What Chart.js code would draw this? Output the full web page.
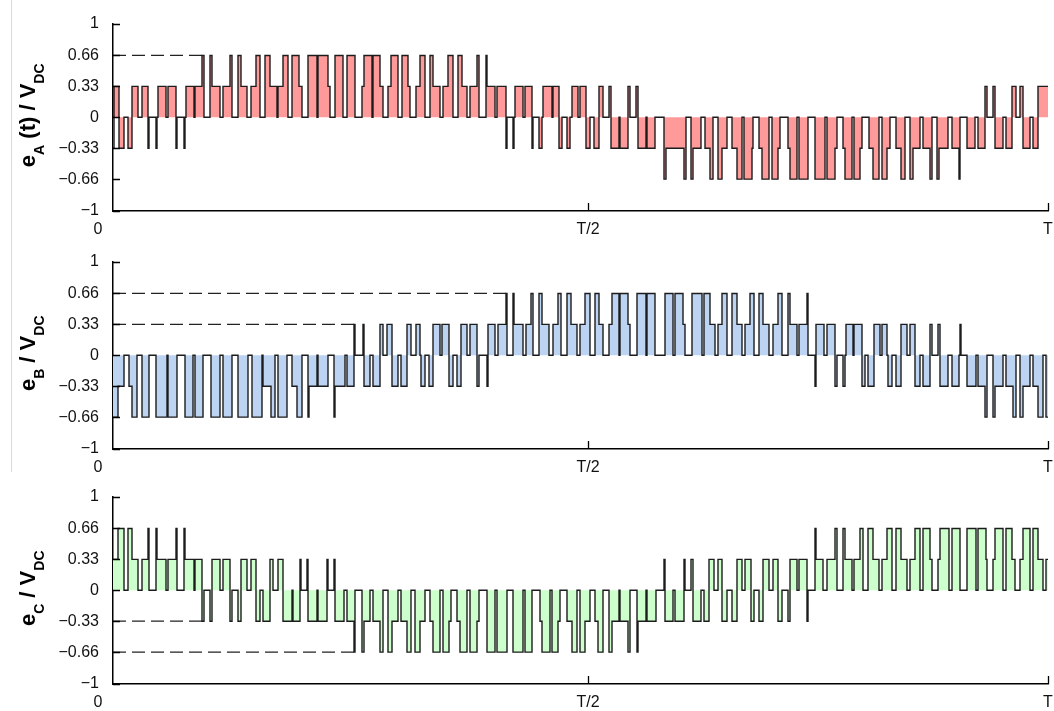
<!DOCTYPE html>
<html>
<head>
<meta charset="utf-8">
<script src="https://cdn.jsdelivr.net/npm/chart.js@4.4.0/dist/chart.umd.min.js"></script>
<style>
  html, body { margin: 0; padding: 0; background: #fff; }
  #wrap { position: relative; width: 1054px; height: 711px; }
  .panel { position: absolute; left: 0; }
  #edge { position: absolute; left: 11px; top: 0; width: 1px; height: 472px; background: #d9d9d9; }
</style>
</head>
<body>
<div id="wrap">
  <div id="edge"></div>
  <canvas class="panel" id="cA" width="1054" height="237" style="top:0"></canvas>
  <canvas class="panel" id="cB" width="1054" height="237" style="top:238px"></canvas>
  <canvas class="panel" id="cC" width="1054" height="237" style="top:473px"></canvas>
</div>
<script>
// one converter step, in units of V_DC
const STEP = 0.33;
// time axis: samples over one fundamental period T
const PERIOD = 935;

const yTickValues = [-1, -0.66, -0.33, 0, 0.33, 0.66, 1];
const yTickLabels = ['\u22121', '\u22120.66', '\u22120.33', '0', '0.33', '0.66', '1'];
const xTickValues = [0, 475, 935];
const xTickLabels = ['0', 'T/2', 'T'];

// phase voltages: [sample where the level starts, level in steps]
const phaseA = [[0,-1],[1,1],[6,-1],[11,0],[15,-1],[19,1],[25,0],[29,1],[35,-1],[36,0],[43,-1],[44,0],[45,1],[53,0],[55,1],[63,-1],[64,0],[71,-1],[72,0],[73,1],[81,0],[82,1],[89,2],[91,0],[97,2],[99,1],[107,0],[110,1],[117,2],[119,0],[125,2],[128,1],[134,0],[138,1],[143,2],[147,0],[152,2],[157,1],[164,0],[165,1],[170,2],[175,0],[179,2],[186,1],[189,0],[195,2],[204,0],[205,2],[215,1],[217,0],[222,2],[230,0],[234,2],[242,0],[249,1],[251,2],[259,0],[260,2],[267,1],[270,0],[275,1],[278,2],[285,0],[289,2],[295,1],[297,0],[303,1],[307,2],[312,0],[317,2],[320,1],[327,0],[330,1],[335,2],[340,0],[345,2],[349,1],[354,0],[357,1],[364,2],[366,0],[373,2],[374,1],[382,0],[384,1],[393,-1],[394,0],[400,-1],[401,0],[402,1],[410,0],[412,1],[419,-1],[420,0],[426,-1],[429,0],[430,1],[439,0],[440,1],[446,-1],[449,0],[454,-1],[457,0],[459,1],[465,0],[467,1],[473,-1],[477,0],[481,-1],[486,1],[490,0],[496,1],[498,-1],[506,0],[507,-1],[515,1],[517,0],[523,1],[525,-1],[533,0],[534,-1],[542,0],[551,-2],[553,-1],[571,-2],[573,0],[578,-2],[580,-1],[588,0],[592,-1],[597,-2],[600,0],[605,-2],[609,-1],[614,0],[619,-1],[624,-2],[629,0],[631,-2],[639,-1],[640,0],[646,-1],[649,-2],[656,0],[659,-2],[665,-1],[667,0],[675,-1],[677,-2],[684,0],[686,-2],[695,0],[702,-2],[712,0],[714,-2],[722,-1],[724,0],[730,-1],[732,-2],[739,0],[741,-2],[747,-1],[749,0],[756,-1],[760,-2],[766,0],[769,-2],[774,-1],[777,0],[783,-1],[788,-2],[792,0],[797,-2],[800,-1],[807,0],[810,-1],[817,-2],[819,0],[824,-2],[826,-1],[835,0],[839,-1],[846,-2],[847,0],[854,-1],[862,0],[865,-1],[872,1],[874,0],[880,1],[882,-1],[890,0],[893,-1],[899,1],[903,0],[907,1],[910,-1],[917,0],[920,-1],[925,1],[935,1]];

const phaseB = [[0,-2],[5,-1],[11,0],[16,-1],[19,-2],[24,0],[29,-2],[36,0],[43,-2],[54,0],[55,-2],[64,0],[72,-2],[80,0],[82,-2],[90,0],[98,-2],[107,0],[110,-2],[119,0],[125,-2],[135,0],[139,-2],[149,0],[150,-1],[158,-2],[162,0],[165,-2],[174,0],[179,-1],[184,-2],[189,0],[195,-2],[196,-1],[204,0],[205,-1],[215,0],[221,-2],[222,-1],[232,0],[234,-1],[241,1],[242,0],[250,1],[251,-1],[257,0],[260,-1],[267,1],[270,0],[274,1],[279,-1],[285,0],[288,-1],[294,1],[298,0],[303,1],[307,0],[308,-1],[312,0],[316,-1],[320,1],[327,0],[329,1],[336,-1],[340,0],[344,-1],[348,1],[354,0],[357,1],[364,-1],[366,0],[374,-1],[375,1],[382,0],[385,1],[393,2],[394,0],[400,2],[401,1],[410,0],[413,1],[418,2],[420,0],[426,2],[429,1],[436,0],[440,1],[445,2],[448,0],[454,2],[458,1],[464,0],[467,1],[472,2],[477,0],[482,2],[486,1],[490,0],[496,1],[499,2],[506,0],[507,2],[515,1],[517,0],[524,2],[533,0],[534,2],[542,0],[552,2],[560,0],[562,2],[570,1],[572,0],[579,2],[589,0],[591,2],[597,1],[602,0],[605,1],[609,2],[614,0],[619,2],[624,1],[629,0],[632,1],[637,2],[641,0],[646,2],[650,1],[656,0],[660,1],[665,2],[669,0],[675,2],[677,1],[684,0],[686,1],[694,2],[695,0],[702,-1],[703,1],[711,0],[714,1],[722,-1],[724,0],[730,-1],[732,0],[733,1],[740,0],[741,1],[749,-1],[752,0],[755,-1],[761,1],[767,0],[769,1],[774,0],[775,-1],[779,0],[783,-1],[788,1],[794,0],[797,1],[802,-1],[807,0],[810,-1],[817,1],[819,0],[825,1],[827,-1],[835,0],[839,-1],[846,0],[847,1],[848,0],[854,-1],[863,0],[865,-1],[872,-2],[874,0],[880,-2],[882,-1],[890,0],[893,-1],[900,-2],[903,0],[907,-2],[910,-1],[917,0],[920,-1],[925,-2],[930,0],[933,-2],[935,-2]];

const phaseC = [[0,1],[5,2],[11,0],[15,2],[19,1],[25,0],[29,1],[35,2],[36,0],[43,2],[44,1],[53,0],[55,1],[63,2],[64,0],[71,2],[72,1],[81,0],[82,1],[89,-1],[91,0],[97,-1],[99,1],[107,0],[110,1],[117,-1],[119,0],[125,-1],[128,1],[134,0],[138,1],[143,-1],[147,0],[150,-1],[157,1],[160,0],[165,1],[170,-1],[179,0],[180,-1],[187,1],[188,0],[194,1],[195,-1],[204,0],[205,-1],[214,1],[215,0],[221,1],[222,-1],[231,0],[234,-1],[241,-2],[242,0],[249,-2],[251,-1],[257,0],[260,-1],[267,-2],[270,0],[275,-2],[279,-1],[285,0],[288,-1],[294,-2],[298,0],[302,-2],[307,-1],[312,0],[317,-1],[320,-2],[327,0],[330,-2],[336,-1],[338,0],[344,-1],[347,-2],[354,0],[357,-2],[364,-1],[366,0],[374,-2],[382,0],[384,-2],[394,0],[400,-2],[410,0],[412,-2],[419,0],[427,-1],[429,-2],[437,0],[439,-2],[445,-1],[447,0],[454,-1],[459,-2],[464,0],[467,-2],[472,-1],[477,0],[482,-1],[485,-2],[490,0],[496,-2],[499,-1],[506,0],[507,-1],[515,-2],[517,0],[524,-2],[525,-1],[533,0],[534,-1],[543,0],[551,1],[552,-1],[560,0],[562,-1],[571,1],[572,0],[578,1],[580,-1],[588,0],[591,-1],[596,1],[601,0],[605,1],[609,-1],[614,0],[619,-1],[624,1],[629,0],[632,1],[638,-1],[641,0],[646,-1],[650,1],[656,0],[660,1],[665,-1],[669,0],[675,-1],[677,1],[684,0],[686,1],[694,-1],[695,0],[702,2],[703,1],[710,0],[714,1],[722,2],[724,0],[730,2],[732,1],[739,0],[741,1],[747,2],[750,0],[755,2],[760,1],[766,0],[769,1],[774,2],[779,0],[783,2],[788,1],[794,0],[797,1],[802,2],[807,0],[810,2],[817,1],[819,0],[825,1],[827,2],[836,0],[839,2],[847,0],[854,2],[863,0],[865,2],[873,1],[874,0],[880,1],[882,2],[890,0],[893,2],[899,1],[902,0],[907,1],[910,2],[917,0],[920,2],[925,1],[930,0],[933,1],[935,1]];

// dashed guide lines: [level in steps, sample where they stop]
const guidesA = [[2, 89]];
const guidesB = [[2, 393], [1, 241]];
const guidesC = [[-1, 89], [-2, 241]];

const FONT = '"Liberation Sans", Arial, Helvetica, sans-serif';

// turn level changes into corner points so the fill stays square
function toSteps(wave) {
  const pts = [];
  wave.forEach((p, i) => {
    if (i > 0) pts.push({ x: p[0], y: wave[i - 1][1] * STEP });
    pts.push({ x: p[0], y: p[1] * STEP });
  });
  return pts;
}

// rotated y title with subscripts, parts = [text, isSubscript]
const yTitle = {
  id: 'yTitle',
  afterDraw(chart, args, opts) {
    const { ctx, chartArea } = chart;
    const big = 'bold 22px ' + FONT;
    const small = 'bold 14px ' + FONT;
    let total = 0;
    opts.parts.forEach(p => {
      ctx.font = p[1] ? small : big;
      total += ctx.measureText(p[0]).width;
    });
    ctx.save();
    ctx.translate(35, (chartArea.top + chartArea.bottom) / 2 - 2);
    ctx.rotate(-Math.PI / 2);
    ctx.fillStyle = '#000';
    ctx.textBaseline = 'alphabetic';
    let x = -total / 2;
    opts.parts.forEach(p => {
      ctx.font = p[1] ? small : big;
      ctx.fillText(p[0], x, p[1] ? 9 : 0);
      x += ctx.measureText(p[0]).width;
    });
    ctx.restore();
  }
};

// matlab-ish inward ticks and the x labels
const axisMarks = {
  id: 'axisMarks',
  afterDraw(chart) {
    const { ctx, chartArea, scales } = chart;
    ctx.save();
    ctx.strokeStyle = '#000';
    ctx.lineWidth = 1.3;
    ctx.beginPath();
    yTickValues.forEach(v => {
      const y = Math.round(scales.y.getPixelForValue(v)) + 0.5;
      ctx.moveTo(chartArea.left, y);
      ctx.lineTo(chartArea.left + 7, y);
    });
    xTickValues.slice(1).forEach(v => {
      const x = Math.round(scales.x.getPixelForValue(v)) + 0.5;
      ctx.moveTo(x, chartArea.bottom);
      ctx.lineTo(x, chartArea.bottom - 8);
    });
    ctx.stroke();
    ctx.fillStyle = '#111';
    ctx.font = '16px ' + FONT;
    ctx.textAlign = 'center';
    ctx.textBaseline = 'top';
    xTickValues.forEach((v, i) => {
      let x = scales.x.getPixelForValue(v);
      if (i === 0) x -= 15;
      ctx.fillText(xTickLabels[i], x, chartArea.bottom + 11);
    });
    ctx.restore();
  }
};

function makePanel(id, wave, guides, fillColor, titleParts) {
  const datasets = [{
    data: toSteps(wave),
    fill: 'origin',
    backgroundColor: fillColor,
    borderColor: '#1c1c1c',
    borderWidth: 1.4,
    borderJoinStyle: 'miter',
    pointRadius: 0
  }];
  guides.forEach(g => {
    datasets.push({
      data: [{ x: 0, y: g[0] * STEP }, { x: g[1], y: g[0] * STEP }],
      fill: false,
      borderColor: '#222',
      borderWidth: 1.2,
      borderDash: [13, 6],
      pointRadius: 0
    });
  });

  new Chart(document.getElementById(id), {
    type: 'line',
    data: { datasets },
    options: {
      responsive: false,
      animation: false,
      layout: { padding: { top: 22, right: 6, left: 0, bottom: 0 } },
      plugins: {
        legend: { display: false },
        tooltip: { enabled: false },
        yTitle: { parts: titleParts }
      },
      scales: {
        x: {
          type: 'linear',
          min: 0,
          max: PERIOD,
          afterBuildTicks: s => { s.ticks = xTickValues.map(v => ({ value: v })); },
          afterFit: s => { s.height = 26; },
          ticks: { display: false },
          grid: { display: false, drawTicks: false },
          border: { display: true, color: '#000', width: 1.5 }
        },
        y: {
          min: -1,
          max: 1,
          afterBuildTicks: s => { s.ticks = yTickValues.map(v => ({ value: v })); },
          afterFit: s => { s.width = 113; },
          ticks: {
            padding: 14,
            color: '#111',
            font: { family: FONT, size: 16 },
            callback: (v, i) => yTickLabels[i]
          },
          grid: { display: false, drawTicks: false },
          border: { display: true, color: '#000', width: 1.5 }
        }
      }
    },
    plugins: [yTitle, axisMarks]
  });
}

makePanel('cA', phaseA, guidesA, '#ff9a9a',
  [['e', false], ['A', true], [' (t) / V', false], ['DC', true]]);
makePanel('cB', phaseB, guidesB, '#bcd4f2',
  [['e', false], ['B', true], [' / V', false], ['DC', true]]);
makePanel('cC', phaseC, guidesC, '#ccffcc',
  [['e', false], ['C', true], [' / V', false], ['DC', true]]);
</script>
</body>
</html>
